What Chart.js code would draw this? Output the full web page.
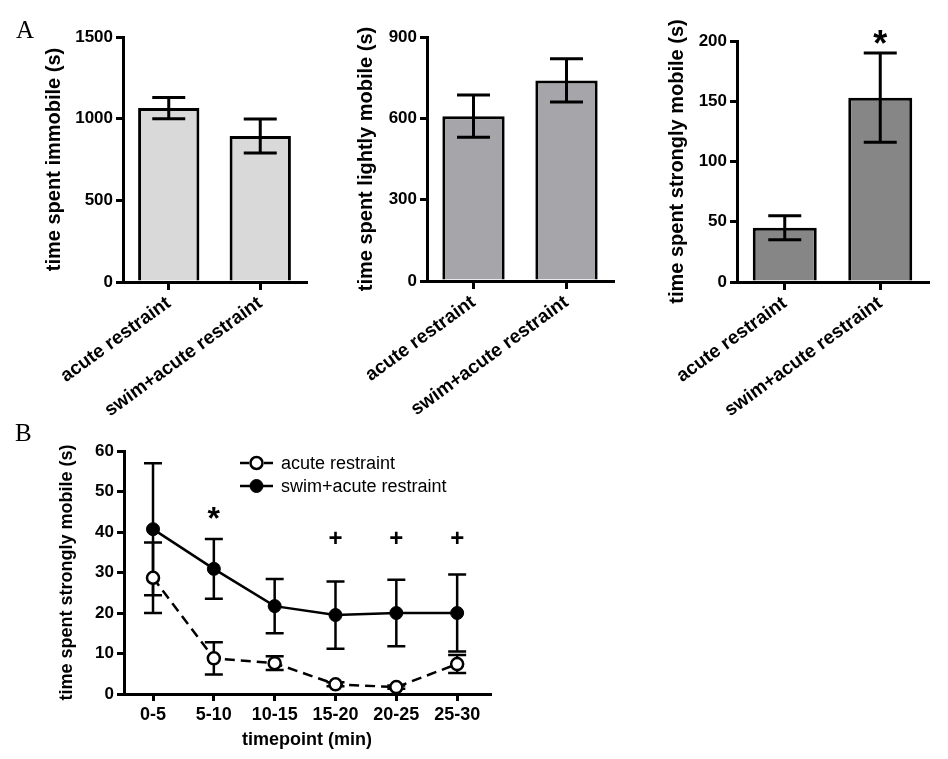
<!DOCTYPE html>
<html><head><meta charset="utf-8">
<script src="https://cdn.jsdelivr.net/npm/chart.js@4/dist/chart.umd.min.js"></script>
<style>
body{margin:0;background:#fff;}
#wrap{position:relative;width:948px;height:759px;overflow:hidden;background:#fff;}
canvas{position:absolute;}
.panel{position:absolute;font-family:'Liberation Serif','Times New Roman',serif;font-size:25px;line-height:1;color:#000;}
</style></head><body>
<div id="wrap">
<canvas id="c1" width="318" height="428" style="left:0;top:0"></canvas>
<canvas id="c2" width="305" height="428" style="left:320px;top:0"></canvas>
<canvas id="c3" width="318" height="428" style="left:630px;top:0"></canvas>
<canvas id="c4" width="500" height="339" style="left:0;top:420px"></canvas>
<div class="panel" style="left:16px;top:17px">A</div>
<div class="panel" style="left:15px;top:420px">B</div>
</div>
<script>
// ---------- data ----------
const groups = ['acute restraint', 'swim+acute restraint'];
const immobileMean = [1065, 894];
const immobileSem = [65, 104];
const lightMean = [608, 740];
const lightSem = [78, 80];
const strongMean = [45, 153];
const strongSem = [10, 37];
const strongSig = ['', '*'];
const strongSigLevel = [null, 206];

const timepoints = ['0-5', '5-10', '10-15', '15-20', '20-25', '25-30'];
const acuteMean = [28.7, 8.8, 7.6, 2.4, 1.7, 7.4];
const acuteSem = [8.7, 4.0, 1.7, 0.5, 0.4, 2.2];
const swimMean = [40.7, 30.9, 21.7, 19.5, 20.0, 20.0];
const swimSem = [16.3, 7.4, 6.7, 8.3, 8.2, 9.5];
const timeSig = ['', '*', '', '+', '+', '+'];
const timeSigLevel = [null, 45.6, null, 38.5, 38.5, 38.5];

// ---------- setup ----------
const FONT = "'Liberation Sans', Arial, Helvetica, sans-serif";
Chart.defaults.font.family = FONT;
Chart.defaults.color = '#000';
Chart.defaults.animation = false;

const errorBars = {
  id: 'errorBars',
  draw(chart, opts) {
    const ctx = chart.ctx, y = chart.scales.y;
    chart.data.datasets.forEach((ds, i) => {
      if (!ds.sem) return;
      const meta = chart.getDatasetMeta(i);
      ctx.save();
      ctx.strokeStyle = '#000';
      ctx.lineWidth = opts.lineWidth;
      ctx.setLineDash([]);
      meta.data.forEach((el, j) => {
        const v = ds.data[j];
        const val = typeof v === 'object' ? v.y : v;
        const hi = y.getPixelForValue(val + ds.sem[j]);
        const lo = y.getPixelForValue(val - ds.sem[j]);
        const x = el.x, c = opts.cap / 2;
        ctx.beginPath();
        ctx.moveTo(x, hi); ctx.lineTo(x, lo);
        ctx.moveTo(x - c, hi); ctx.lineTo(x + c, hi);
        ctx.moveTo(x - c, lo); ctx.lineTo(x + c, lo);
        ctx.stroke();
      });
      ctx.restore();
    });
  },
  beforeDatasetsDraw(chart, args, opts) { if (opts.before) this.draw(chart, opts); },
  afterDatasetsDraw(chart, args, opts) { if (!opts.before) this.draw(chart, opts); }
};

const sigMarks = {
  id: 'sigMarks',
  afterDraw(chart, args, opts) {
    if (!opts.labels) return;
    const ctx = chart.ctx, y = chart.scales.y;
    const meta = chart.getDatasetMeta(chart.data.datasets.length - 1);
    ctx.save();
    ctx.fillStyle = '#000';
    ctx.textAlign = 'center';
    ctx.textBaseline = 'alphabetic';
    opts.labels.forEach((t, j) => {
      if (!t) return;
      const size = t === '*' ? opts.starSize : opts.plusSize;
      const k = t === '*' ? 0.62 : 0.33;
      ctx.font = 'bold ' + size + 'px ' + FONT;
      const cy = y.getPixelForValue(opts.levels[j]);
      ctx.fillText(t, meta.data[j].x, cy + k * size);
    });
    ctx.restore();
  }
};

function barChart(id, mean, sem, color, yMax, step, title, pad, yWidth, top, rightPad, bottom, H, sig, sigLevel) {
  new Chart(document.getElementById(id), {
    type: 'bar',
    data: {
      labels: groups,
      datasets: [{
        data: mean, sem: sem,
        backgroundColor: color, borderColor: '#000', borderWidth: 3,
        barPercentage: 0.67, categoryPercentage: 1, borderSkipped: 'bottom'
      }]
    },
    options: {
      responsive: false,
      layout: { padding: { left: pad, top: top, right: rightPad, bottom: 0 } },
      plugins: {
        legend: { display: false }, tooltip: { enabled: false },
        errorBars: { lineWidth: 3, cap: 33, before: false },
        sigMarks: { labels: sig, levels: sigLevel, starSize: 36, plusSize: 24 }
      },
      scales: {
        x: {
          offset: true,
          grid: { offset: false, drawOnChartArea: false, tickLength: 8, lineWidth: 3, color: '#000' },
          border: { display: true, width: 3, color: '#000' },
          ticks: { autoSkip: false, minRotation: 36, maxRotation: 36, padding: 2, font: { size: 19, weight: 'bold' } },
          afterFit: s => { s.height = H - bottom; }
        },
        y: {
          min: 0, max: yMax,
          ticks: { stepSize: step, padding: 3, font: { size: 17, weight: 'bold' }, callback: v => String(v) },
          grid: { drawOnChartArea: false, tickLength: 7, lineWidth: 3, color: '#000' },
          border: { display: true, width: 3, color: '#000' },
          title: { display: true, text: title, font: { size: 20, weight: 'bold' }, padding: { top: 4, bottom: 4 } },
          afterFit: s => { s.width = yWidth; }
        }
      }
    },
    plugins: [errorBars, sigMarks]
  });
}

barChart('c1', immobileMean, immobileSem, '#d9d9d9', 1500, 500, 'time spent immobile (s)', 38, 85, 37, 12, 282, 428, null, null);
barChart('c2', lightMean, lightSem, '#a6a5aa', 900, 300, 'time spent lightly mobile (s)', 30, 77, 37, 12, 281, 428, null, null);
barChart('c3', strongMean, strongSem, '#868686', 200, 50, 'time spent strongly mobile (s)', 31, 76, 41, 20, 282, 428, strongSig, strongSigLevel);

// ---------- panel B ----------
const legendB = {
  id: 'legendB',
  afterDraw(chart) {
    const ctx = chart.ctx;
    chart.data.datasets.forEach((ds, i) => {
      const yy = 43 + i * 23, x0 = 240, x1 = 273, xm = (x0 + x1) / 2;
      ctx.save();
      ctx.strokeStyle = '#000';
      ctx.lineWidth = ds.borderWidth;
      ctx.setLineDash([]);
      ctx.beginPath();
      if (ds.borderDash && ds.borderDash.length) {
        ctx.moveTo(x0, yy); ctx.lineTo(x0 + 9, yy);
        ctx.moveTo(x1 - 9, yy); ctx.lineTo(x1, yy);
      } else {
        ctx.moveTo(x0, yy); ctx.lineTo(x1, yy);
      }
      ctx.stroke();
      ctx.beginPath();
      ctx.arc(xm, yy, ds.pointRadius, 0, Math.PI * 2);
      ctx.fillStyle = ds.pointBackgroundColor;
      ctx.fill();
      ctx.lineWidth = ds.pointBorderWidth;
      ctx.stroke();
      ctx.fillStyle = '#000';
      ctx.font = '18px ' + FONT;
      ctx.textBaseline = 'middle';
      ctx.textAlign = 'left';
      ctx.fillText(ds.label, 281, yy + 1);
      ctx.restore();
    });
  }
};

new Chart(document.getElementById('c4'), {
  type: 'line',
  data: {
    datasets: [
      {
        label: 'acute restraint',
        data: acuteMean.map((v, i) => ({ x: i, y: v })), sem: acuteSem,
        borderColor: '#000', borderWidth: 2.5, borderDash: [10, 6],
        pointRadius: 6, pointBorderWidth: 2.5, pointBackgroundColor: '#fff', pointBorderColor: '#000',
        tension: 0, fill: false
      },
      {
        label: 'swim+acute restraint',
        data: swimMean.map((v, i) => ({ x: i, y: v })), sem: swimSem,
        borderColor: '#000', borderWidth: 2.5, borderDash: [],
        pointRadius: 6.5, pointBorderWidth: 1, pointBackgroundColor: '#000', pointBorderColor: '#000',
        tension: 0, fill: false
      }
    ]
  },
  options: {
    responsive: false,
    clip: false,
    layout: { padding: { left: 52, top: 31, right: 10, bottom: 4 } },
    plugins: {
      legend: { display: false }, tooltip: { enabled: false },
      errorBars: { lineWidth: 2.5, cap: 18, before: true },
      sigMarks: { labels: timeSig, levels: timeSigLevel, starSize: 32, plusSize: 24 }
    },
    scales: {
      x: {
        type: 'linear', min: -0.477, max: 5.54,
        grid: { drawOnChartArea: false, tickLength: 7, lineWidth: 3, color: '#000' },
        border: { display: true, width: 3, color: '#000' },
        ticks: { stepSize: 1, includeBounds: false, padding: 3, font: { size: 18, weight: 'bold' },
                 callback: v => timepoints[v] !== undefined ? timepoints[v] : '' },
        title: { display: true, text: 'timepoint (min)', font: { size: 18, weight: 'bold' }, padding: { top: 4, bottom: 4 } },
        afterFit: s => { s.height = 61; }
      },
      y: {
        min: 0, max: 60,
        ticks: { stepSize: 10, padding: 3, font: { size: 17, weight: 'bold' } },
        grid: { drawOnChartArea: false, tickLength: 7, lineWidth: 3, color: '#000' },
        border: { display: true, width: 3, color: '#000' },
        title: { display: true, text: 'time spent strongly mobile (s)', font: { size: 18, weight: 'bold' }, padding: { top: 4, bottom: 4 } },
        afterFit: s => { s.width = 72; }
      }
    }
  },
  plugins: [errorBars, sigMarks, legendB]
});
</script>
</body></html>
